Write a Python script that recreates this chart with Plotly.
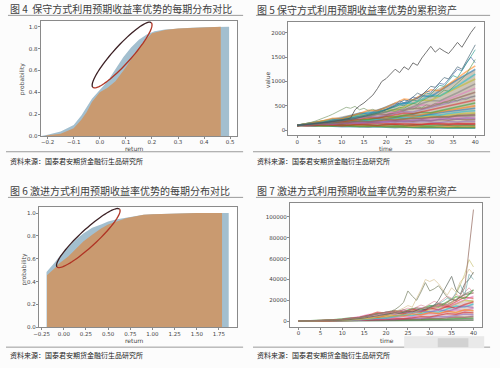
import math
import plotly.graph_objects as go

W, H = 500, 368
def px(x): return x / W
def py(y): return 1 - y / H

# ---------------- data ----------------
# Fig 4: cumulative distributions (conservative)
p1_blue_x = [-0.225, -0.2, -0.15, -0.1, -0.07, -0.05, -0.03, 0.0, 0.03, 0.06, 0.09, 0.12, 0.15, 0.18, 0.21, 0.25, 0.3, 0.35, 0.4, 0.45, 0.496]
p1_blue_y = [0.0, 0.01, 0.04, 0.10, 0.19, 0.26, 0.34, 0.42, 0.50, 0.61, 0.72, 0.81, 0.88, 0.93, 0.96, 0.975, 0.985, 0.99, 0.995, 1.0, 1.0]
p1_orange_x = [-0.21, -0.2, -0.15, -0.1, -0.07, -0.05, -0.03, 0.0, 0.03, 0.06, 0.1, 0.13, 0.16, 0.2, 0.25, 0.3, 0.35, 0.4, 0.464]
p1_orange_y = [0.0, 0.005, 0.02, 0.07, 0.15, 0.22, 0.31, 0.40, 0.44, 0.50, 0.63, 0.74, 0.84, 0.94, 0.97, 0.985, 0.99, 0.995, 1.0]

# Fig 6: cumulative distributions (aggressive)
p3_blue_x = [-0.195, -0.1, -0.05, 0.05, 0.13, 0.22, 0.32, 0.42, 0.5, 0.6, 0.7, 0.8, 0.9, 1.0, 1.2, 1.5, 1.86]
p3_blue_y = [0.485, 0.57, 0.62, 0.70, 0.765, 0.82, 0.87, 0.90, 0.925, 0.945, 0.958, 0.97, 0.985, 0.99, 0.995, 1.0, 1.0]
p3_orange_x = [-0.19, -0.1, -0.05, 0.05, 0.13, 0.22, 0.32, 0.42, 0.5, 0.6, 0.7, 0.8, 0.9, 1.0, 1.2, 1.5, 1.785]
p3_orange_y = [0.455, 0.52, 0.56, 0.62, 0.68, 0.75, 0.81, 0.865, 0.90, 0.93, 0.955, 0.97, 0.985, 0.99, 0.995, 1.0, 1.0]

# Time axes
t_full = list(range(0, 41))
t_half = list(range(0, 41, 2))
t_five = list(range(0, 41, 5))

# Fig 5: envelope of the dense bundle of paths
p2_band_hi = [100, 190, 280, 370, 470, 600, 780, 1000, 1250]
p2_band_lo = [100, 85, 75, 65, 58, 52, 48, 44, 40]
# Fig 5: cumulative asset paths (conservative), sampled every 2 periods
p2_mass = [
    [100, 92, 85, 95, 80, 72, 78, 70, 65, 72, 60, 55, 62, 50, 48, 55, 45, 42, 48, 40, 40],
    [100, 110, 98, 90, 102, 95, 85, 92, 80, 88, 78, 72, 80, 70, 75, 68, 72, 65, 70, 66, 70],
    [100, 105, 115, 108, 120, 112, 105, 118, 110, 102, 115, 108, 98, 110, 104, 96, 108, 100, 95, 105, 100],
    [100, 112, 120, 130, 118, 125, 140, 128, 135, 150, 138, 125, 140, 132, 120, 135, 148, 130, 142, 135, 140],
    [100, 108, 118, 112, 130, 142, 135, 150, 160, 148, 170, 158, 175, 165, 180, 170, 160, 178, 168, 185, 180],
    [100, 115, 110, 128, 140, 132, 155, 168, 160, 175, 190, 178, 200, 188, 210, 195, 220, 205, 230, 215, 220],
    [100, 112, 126, 140, 135, 150, 165, 158, 180, 195, 188, 205, 220, 210, 235, 228, 250, 240, 265, 255, 260],
    [100, 118, 130, 125, 148, 160, 175, 168, 190, 205, 225, 215, 240, 230, 255, 270, 260, 285, 300, 290, 300],
    [100, 110, 125, 142, 155, 150, 172, 190, 205, 198, 225, 240, 232, 258, 275, 290, 280, 310, 330, 345, 350],
    [100, 115, 132, 128, 150, 170, 185, 200, 195, 220, 240, 258, 250, 280, 300, 320, 310, 345, 370, 390, 400],
    [100, 120, 138, 150, 165, 185, 178, 205, 225, 245, 235, 265, 290, 310, 300, 335, 360, 385, 410, 430, 450],
    [100, 112, 130, 148, 168, 160, 190, 210, 230, 255, 245, 275, 300, 290, 330, 355, 380, 410, 440, 470, 500],
    [100, 122, 140, 160, 155, 180, 205, 230, 220, 255, 285, 275, 310, 340, 370, 360, 400, 440, 480, 520, 560],
    [100, 118, 138, 162, 185, 175, 205, 235, 260, 250, 285, 320, 350, 340, 380, 420, 460, 500, 540, 590, 620],
    [100, 125, 148, 170, 165, 195, 225, 255, 285, 275, 315, 350, 385, 375, 420, 465, 510, 560, 610, 660, 700],
    [100, 120, 145, 170, 198, 190, 225, 260, 295, 330, 320, 365, 410, 450, 440, 490, 545, 600, 660, 720, 780],
    [100, 128, 155, 150, 180, 215, 250, 240, 285, 330, 375, 365, 415, 465, 520, 510, 570, 640, 710, 790, 860],
    [100, 122, 150, 178, 210, 200, 240, 285, 275, 325, 375, 430, 420, 480, 545, 610, 600, 680, 770, 860, 950],
    [100, 130, 160, 195, 185, 225, 270, 320, 310, 365, 425, 410, 475, 545, 620, 610, 700, 790, 880, 970, 1050],
    [100, 126, 155, 190, 230, 220, 265, 315, 370, 360, 420, 490, 560, 550, 630, 720, 700, 800, 910, 1030, 1150],
    [100, 132, 165, 160, 200, 245, 295, 350, 340, 405, 475, 550, 540, 620, 710, 690, 800, 920, 1040, 1150, 1250],
    [100, 128, 162, 200, 245, 235, 285, 345, 410, 400, 470, 550, 640, 620, 720, 830, 810, 940, 1080, 1200, 1320],
    [100, 95, 105, 90, 85, 95, 82, 75, 85, 72, 68, 75, 62, 58, 65, 55, 60, 52, 58, 50, 55],
    [100, 90, 100, 112, 105, 95, 108, 120, 110, 100, 115, 125, 112, 105, 118, 130, 120, 110, 125, 115, 120],
    [100, 105, 120, 135, 128, 145, 160, 150, 170, 182, 175, 195, 185, 205, 215, 200, 225, 240, 228, 250, 240],
    [100, 115, 125, 140, 155, 148, 168, 185, 175, 198, 215, 208, 230, 250, 240, 265, 280, 270, 300, 310, 320],
]
# Fig 5: visible high paths, every period
p2_top = [100, 108, 118, 126, 135, 147, 156, 170, 182, 195, 210, 228, 250, 420, 500, 560, 640, 720, 850, 1000, 1060,
          1150, 1250, 1180, 1300, 1240, 1380, 1330, 1480, 1600, 1720, 1600, 1680, 1620, 1570, 1680, 1800, 1700, 1850, 2000, 2120]
p2_slate = [100, 105, 115, 125, 135, 140, 150, 160, 170, 185, 195, 210, 225, 240, 260, 280, 300, 320, 350, 380, 420,
            460, 500, 560, 620, 600, 680, 760, 720, 820, 900, 880, 980, 1080, 1050, 1180, 1300, 1250, 1420, 1580, 1750]
p2_teal = [100, 110, 118, 128, 140, 150, 162, 175, 188, 200, 215, 230, 245, 260, 280, 300, 320, 340, 365, 390, 420,
           440, 480, 520, 500, 560, 620, 600, 680, 760, 740, 830, 920, 900, 1000, 1120, 1080, 1220, 1380, 1500, 1650]
p2_blue = [100, 108, 116, 125, 135, 146, 158, 170, 183, 197, 212, 228, 245, 263, 282, 302, 324, 348, 373, 400, 430,
           470, 520, 600, 560, 620, 680, 650, 720, 800, 780, 870, 960, 940, 1050, 1150, 1250, 1220, 1380, 1500, 1380]
p2_early = [100, 115, 135, 160, 185, 215, 250, 290, 330, 380, 430, 470, 450, 490, 420, 450, 400, 430, 380, 410, 370,
            400, 380, 420, 400, 450, 430, 480, 460, 520, 500, 550, 530, 580, 560, 620, 600, 650, 630, 680, 700]
p2_green = [100, 106, 113, 121, 130, 139, 149, 160, 171, 183, 196, 210, 224, 240, 256, 274, 292, 312, 334, 356, 380,
            400, 430, 470, 450, 500, 550, 530, 600, 650, 700, 680, 760, 820, 800, 880, 960, 1050, 1150, 1300, 1450]

# Fig 7: envelope of the dense bundle
p4_band_hi = [100, 500, 1500, 3500, 6500, 9000, 12000, 16000, 21000]
p4_band_lo = [100, 100, 100, 100, 100, 100, 100, 100, 100]
# Fig 7: cumulative asset paths (aggressive), sampled every 2 periods
p4_mass = [
    [100, 120, 150, 130, 180, 220, 200, 260, 300, 280, 350, 420, 380, 460, 550, 500, 620, 700, 650, 780, 850],
    [100, 140, 200, 260, 240, 330, 420, 400, 520, 650, 600, 780, 950, 880, 1100, 1300, 1200, 1500, 1750, 1650, 2000],
    [100, 150, 220, 300, 280, 400, 520, 480, 650, 820, 780, 1000, 1250, 1150, 1450, 1800, 1700, 2100, 2500, 2350, 2900],
    [100, 160, 250, 230, 350, 480, 650, 600, 820, 1100, 1000, 1350, 1750, 1600, 2100, 2700, 2500, 3200, 4000, 3700, 4500],
    [100, 170, 280, 420, 380, 560, 780, 1050, 950, 1300, 1750, 1600, 2200, 2900, 2700, 3500, 4500, 4200, 5400, 6800, 6200],
    [100, 180, 300, 280, 450, 700, 650, 950, 1400, 1300, 1900, 2600, 2400, 3300, 4400, 4100, 5500, 7200, 6700, 8500, 8000],
    [100, 190, 330, 550, 500, 800, 1200, 1100, 1700, 2500, 2300, 3300, 4600, 4300, 5800, 7600, 7000, 9000, 11000, 10000, 12500],
    [100, 200, 350, 320, 560, 900, 1400, 1300, 2000, 3000, 2800, 4100, 5800, 5400, 7300, 9400, 8700, 11500, 14500, 13500, 16500],
    [100, 210, 380, 650, 600, 1000, 1600, 2500, 2300, 3500, 5200, 4800, 6900, 9200, 8600, 11000, 14000, 13000, 16500, 20000, 19000],
    [100, 220, 400, 700, 1150, 1050, 1700, 2700, 4100, 3800, 5600, 7800, 7200, 9800, 8900, 12000, 15500, 14300, 18500, 23000, 22000],
    [100, 230, 420, 750, 1250, 2000, 1850, 3000, 4600, 6800, 6300, 8900, 8200, 11000, 10100, 13500, 17000, 15800, 20500, 25500, 27000],
    [100, 240, 450, 800, 1350, 2200, 3400, 3100, 5000, 7500, 7000, 10000, 9200, 12300, 11300, 15000, 13800, 18500, 23500, 21800, 30000],
    [100, 200, 380, 600, 1000, 1600, 2600, 4200, 6500, 5800, 8800, 7900, 10500, 9600, 12800, 11500, 14800, 13200, 17000, 20500, 24000],
    [100, 180, 330, 520, 850, 1400, 2300, 3800, 5800, 8500, 7600, 9800, 8700, 11200, 9900, 12500, 11000, 14200, 12500, 16000, 18500],
    [100, 160, 300, 480, 780, 1250, 2000, 3200, 5000, 4500, 7200, 6400, 8600, 7600, 9800, 8800, 11000, 9600, 12000, 14500, 13000],
    [100, 150, 260, 420, 680, 1100, 1800, 1600, 2600, 4100, 3700, 5600, 5000, 7000, 6200, 8200, 7300, 9500, 8400, 11000, 10000],
]
p4_tall = [100, 140, 190, 250, 330, 430, 560, 720, 930, 1200, 1500, 1900, 2400, 3000, 3700, 4500, 5400, 6300, 7200, 8000, 8800,
           9500, 8600, 9800, 11000, 10000, 11500, 13000, 12000, 13500, 12500, 14500, 16500, 15000, 18000, 21000, 19500, 25000, 32000, 70000, 107000]
p4_olive = [100, 130, 170, 220, 290, 380, 500, 650, 850, 1100, 1400, 1800, 2300, 2900, 3600, 4400, 5300, 6200, 7000, 7800, 8500,
            9500, 11000, 14000, 18000, 29000, 24000, 20000, 28000, 37000, 29000, 31000, 34000, 28000, 23000, 21000, 20000, 23000, 26000, 28000, 30000]
p4_dark = [100, 120, 150, 190, 240, 300, 380, 480, 600, 760, 950, 1200, 1500, 1900, 2400, 3000, 3700, 4500, 5400, 6300, 7000,
           7500, 8200, 7600, 8800, 9500, 9000, 10500, 12000, 11000, 13000, 15000, 20000, 28000, 36000, 43000, 30000, 26000, 36000, 40000, 47000]
p4_yellow = [100, 110, 130, 160, 200, 250, 310, 390, 490, 610, 760, 950, 1180, 1450, 1800, 2200, 2700, 3300, 4000, 4800, 5600,
             6200, 7000, 7800, 8500, 9500, 10500, 9800, 11500, 13000, 12000, 14000, 16000, 15000, 18000, 17000, 25000, 35000, 45000, 59000, 52000]
p4_tan = [100, 120, 150, 190, 240, 310, 400, 510, 650, 820, 1000, 1250, 1550, 1900, 2300, 2800, 3400, 4100, 4900, 5800, 6800,
          7800, 9000, 10500, 12500, 15000, 13500, 22000, 30000, 40000, 38000, 40000, 36000, 30000, 25000, 32000, 28000, 38000, 42000, 50000, 45000]
p4_teal = [100, 115, 135, 160, 190, 230, 280, 340, 410, 500, 600, 720, 870, 1050, 1260, 1500, 1800, 2150, 2550, 3000, 3500,
           4000, 4600, 5300, 6000, 7000, 8000, 9200, 10500, 12000, 13500, 15000, 17000, 19000, 22000, 20000, 28000, 35000, 25000, 45000, 40000]
p4_pink = [100, 130, 170, 220, 280, 360, 460, 590, 750, 950, 1200, 1500, 1850, 2300, 2800, 3400, 4100, 4900, 5800, 6800, 7900,
           9000, 10200, 9400, 11000, 12500, 11500, 13500, 15500, 14000, 16500, 19000, 17500, 20500, 24000, 22000, 26000, 23000, 28000, 32000, 27000]

# Tick labels
p1_xticks = [-0.2, -0.1, 0.0, 0.1, 0.2, 0.3, 0.4, 0.5]
p1_xlabels = ["\u22120.2", "\u22120.1", "0.0", "0.1", "0.2", "0.3", "0.4", "0.5"]
prob_ticks = [0, 0.2, 0.4, 0.6, 0.8, 1.0]
prob_labels = ["0.0", "0.2", "0.4", "0.6", "0.8", "1.0"]
p3_xticks = [-0.25, 0, 0.25, 0.5, 0.75, 1.0, 1.25, 1.5, 1.75]
p3_xlabels = ["\u22120.25", "0.00", "0.25", "0.50", "0.75", "1.00", "1.25", "1.50", "1.75"]
time_ticks = [0, 5, 10, 15, 20, 25, 30, 35, 40]
p2_yticks = [0, 500, 1000, 1500, 2000]
p4_yticks = [0, 20000, 40000, 60000, 80000, 100000]
p4_ylabels = ["0", "20000", "40000", "60000", "80000", "100000"]

titles = ["图 4  保守方式利用预期收益率优势的每期分布对比",
          "图 5 保守方式利用预期收益率优势的累积资产",
          "图 6 激进方式利用预期收益率优势的每期分布对比",
          "图 7 激进方式利用预期收益率优势的累积资产"]
source = "资料来源：国泰君安期货金融衍生品研究所"

# ---------------- figure ----------------
tab10 = ["#1f77b4", "#ff7f0e", "#2ca02c", "#d62728", "#9467bd",
         "#8c564b", "#e377c2", "#7f7f7f", "#bcbd22", "#17becf"]
BLUE = "#a3bfcf"
ORANGE = "#c99a70"

fig = go.Figure()

def cdf_fill(xs, ys, color, xa, ya):
    fig.add_trace(go.Scatter(x=[xs[0]] + xs + [xs[-1]], y=[0] + ys + [0],
                             mode="lines", fill="toself", fillcolor=color,
                             line=dict(width=0, color=color),
                             xaxis=xa, yaxis=ya, hoverinfo="skip", showlegend=False))

cdf_fill(p1_blue_x, p1_blue_y, BLUE, "x", "y")
cdf_fill(p1_orange_x, p1_orange_y, ORANGE, "x", "y")
cdf_fill(p3_blue_x, p3_blue_y, BLUE, "x3", "y3")
cdf_fill(p3_orange_x, p3_orange_y, ORANGE, "x3", "y3")

def band(t, lo, hi, color, xa, ya):
    fig.add_trace(go.Scatter(x=t + t[::-1], y=hi + lo[::-1], mode="lines", fill="toself",
                             fillcolor=color, line=dict(width=0, color=color),
                             xaxis=xa, yaxis=ya, hoverinfo="skip", showlegend=False))

def path_line(t, ys, color, xa, ya, width=1.0, opacity=0.65):
    fig.add_trace(go.Scatter(x=t, y=ys, mode="lines", line=dict(color=color, width=width),
                             opacity=opacity, xaxis=xa, yaxis=ya,
                             hoverinfo="skip", showlegend=False))

band(t_five, p2_band_lo, p2_band_hi, "rgba(165,150,125,0.55)", "x2", "y2")
for i, ys in enumerate(p2_mass):
    path_line(t_half, ys, tab10[i % 10], "x2", "y2", width=1.6, opacity=0.55)
path_line(t_full, p2_early, "#7a9a6a", "x2", "y2")
path_line(t_full, p2_green, "#5aa05a", "x2", "y2")
path_line(t_full, p2_blue, "#4a6aa8", "x2", "y2")
path_line(t_full, p2_teal, "#2a9d8f", "x2", "y2")
path_line(t_full, p2_slate, "#3f6070", "x2", "y2")
path_line(t_full, p2_top, "#555555", "x2", "y2", opacity=0.8)

band(t_five, p4_band_lo, p4_band_hi, "rgba(170,130,125,0.35)", "x4", "y4")
p4_colors = ["#4a7a50", "#7f7f7f", "#2ca02c", "#8c564b", "#9467bd", "#d62728",
             "#e377c2", "#17becf", "#bcbd22", "#d62728", "#8c564b", "#2ca02c",
             "#e377c2", "#d62728", "#9467bd", "#ff7f0e"]
for i, ys in enumerate(p4_mass):
    path_line(t_half, ys, p4_colors[i % len(p4_colors)], "x4", "y4", width=1.4, opacity=0.6)
path_line(t_full, p4_pink, "#e090a0", "x4", "y4")
path_line(t_full, p4_teal, "#70b0b0", "x4", "y4")
path_line(t_full, p4_tan, "#d8c090", "x4", "y4")
path_line(t_full, p4_yellow, "#c8c070", "x4", "y4")
path_line(t_full, p4_olive, "#707a5a", "x4", "y4")
path_line(t_full, p4_dark, "#505a50", "x4", "y4")
path_line(t_full, p4_tall, "#a07a70", "x4", "y4", opacity=0.8)

axis_common = dict(showline=True, mirror=True, linecolor="#8a8a8a", linewidth=1,
                   ticks="outside", ticklen=2, tickcolor="#8a8a8a", tickwidth=1,
                   showgrid=False, zeroline=False, ticklabelstandoff=-1,
                   tickfont=dict(family="DejaVu Sans", size=5.5, color="#444"))

fig.update_layout(
    width=W, height=H, autosize=False,
    margin=dict(l=0, r=0, t=0, b=0),
    paper_bgcolor="#fcfcfc", plot_bgcolor="white",
    xaxis=dict(axis_common, domain=[px(35), px(234)], range=[-0.227, 0.527], anchor="y",
               tickvals=p1_xticks, ticktext=p1_xlabels),
    yaxis=dict(axis_common, domain=[py(137), py(21.5)], range=[0, 1.05], anchor="x",
               tickvals=prob_ticks, ticktext=prob_labels),
    xaxis2=dict(axis_common, domain=[px(285.7), px(484)], range=[-2, 42], anchor="y2",
                tickvals=time_ticks),
    yaxis2=dict(axis_common, domain=[py(136.5), py(22.3)], range=[-105, 2215], anchor="x2",
                tickvals=p2_yticks),
    xaxis3=dict(axis_common, domain=[px(33.3), px(233.3)], range=[-0.281, 1.948], anchor="y3",
                tickvals=p3_xticks, ticktext=p3_xlabels),
    yaxis3=dict(axis_common, domain=[py(330), py(209)], range=[0, 1.05], anchor="x3",
                tickvals=prob_ticks, ticktext=prob_labels),
    xaxis4=dict(axis_common, domain=[px(287.3), px(482)], range=[-2, 42], anchor="y4",
                tickvals=time_ticks),
    yaxis4=dict(axis_common, domain=[py(329.5), py(205)], range=[-5400, 113000], anchor="x4",
                tickvals=p4_yticks, ticktext=p4_ylabels),
)

ann = []
def text(x, y, s, size, color="#333", angle=0, xanchor="center", family="Noto Sans CJK SC"):
    ann.append(dict(x=px(x), y=py(y), xref="paper", yref="paper", text=s, showarrow=False,
                    xanchor=xanchor, yanchor="middle", textangle=angle, borderpad=0,
                    font=dict(family=family, size=size, color=color)))

text(3, 9, titles[0], 10, color="#404040", xanchor="left")
text(253, 10, titles[1], 10, color="#404040", xanchor="left")
text(3, 192, titles[2], 10, color="#404040", xanchor="left")
text(253, 192, titles[3], 10, color="#404040", xanchor="left")
text(3, 162, source, 7, color="#222", xanchor="left")
text(253, 162, source, 7, color="#222", xanchor="left")
text(3, 357.5, source, 7, color="#222", xanchor="left")
text(253, 357.5, source, 7, color="#222", xanchor="left")
text(17, 80, "probability", 6, color="#444", angle=-90, family="DejaVu Sans")
text(130, 149.5, "return", 6, color="#444", family="DejaVu Sans")
text(265, 80, "value", 6, color="#444", angle=-90, family="DejaVu Sans")
text(385, 149.5, "time", 6, color="#444", family="DejaVu Sans")
text(18, 272, "probability", 6, color="#444", angle=-90, family="DejaVu Sans")
text(130, 343, "return", 6, color="#444", family="DejaVu Sans")
text(386, 343.5, "time", 6, color="#444", family="DejaVu Sans")
fig.update_layout(annotations=ann)

shapes = []
def hline(x0, x1, y, color="#9a9a9a", w=1):
    shapes.append(dict(type="line", xref="paper", yref="paper", x0=px(x0), x1=px(x1),
                       y0=py(y), y1=py(y), line=dict(color=color, width=w)))
hline(2, 240, 15.5)
hline(253, 490, 15.5)
hline(0, 240, 153)
hline(250, 490, 153)
hline(2, 240, 199)
hline(253, 490, 199)
hline(0, 240, 350)
hline(250, 490, 350)

# watermark blur at the lower right
shapes.append(dict(type="rect", xref="paper", yref="paper", x0=px(403), x1=px(484),
                   y0=py(351), y1=py(339), fillcolor="#e9e9e9", line=dict(width=0)))
shapes.append(dict(type="rect", xref="paper", yref="paper", x0=px(437), x1=px(468),
                   y0=py(350), y1=py(341), fillcolor="#d2d2d2", line=dict(width=0)))

# hand-drawn ellipses (geometry in pixel space)
def ellipse(cx, cy, a, b, ang_deg):
    ang = math.radians(ang_deg)
    def pt(th):
        ex, ey = a * math.cos(th), b * math.sin(th)
        x = cx + ex * math.cos(ang) - ey * math.sin(ang)
        y = cy + ex * math.sin(ang) + ey * math.cos(ang)
        return f"{px(x):.5f},{py(y):.5f}"
    n = 40
    upper = [pt(math.pi * k / n) for k in range(n + 1)]
    lower = [pt(math.pi + math.pi * k / n) for k in range(n + 1)]
    shapes.append(dict(type="path", xref="paper", yref="paper",
                       path="M" + " L".join(lower), line=dict(color="#3c2024", width=1.3)))
    shapes.append(dict(type="path", xref="paper", yref="paper",
                       path="M" + " L".join(upper), line=dict(color="#b03424", width=1.3)))

ellipse(117.5, 55.5, 44, 9, -47.8)
ellipse(83.3, 240, 43, 8.5, -42.6)

fig.update_layout(shapes=shapes)
fig.write_html("out.html", config={"displayModeBar": False},
               post_script="document.body.style.margin='0px';document.body.style.overflow='hidden';")
